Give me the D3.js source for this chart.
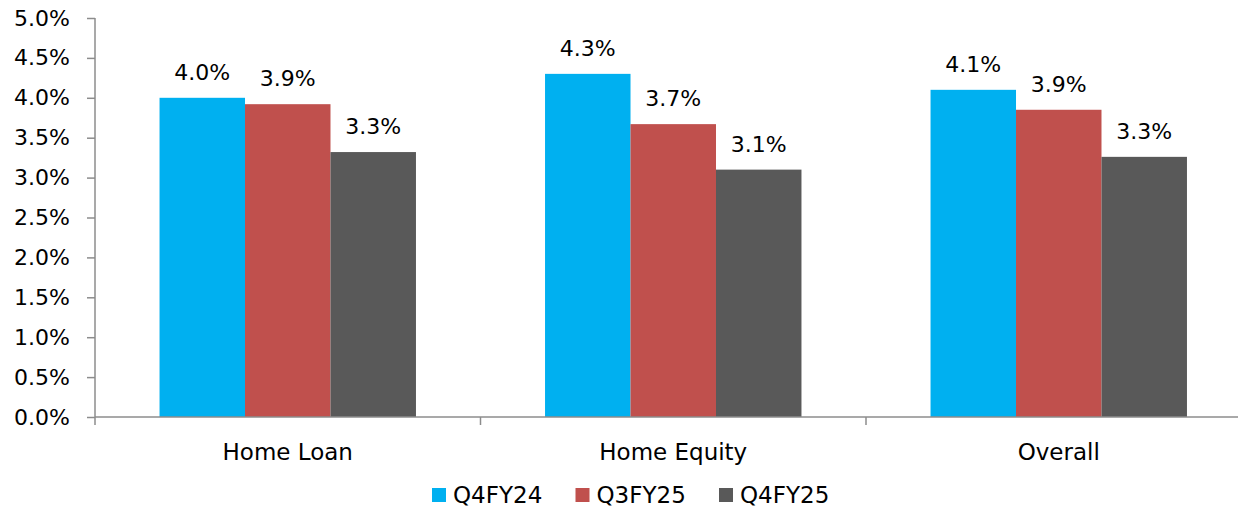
<!DOCTYPE html>
<html>
<head>
<meta charset="utf-8">
<script src="https://cdn.jsdelivr.net/npm/d3@7"></script>
<style>
  body { margin: 0; background: #fff; }
  #viz { width: 1238px; height: 510px; overflow: hidden; }
  text { font-family: "DejaVu Sans", sans-serif; fill: #000; }
</style>
</head>
<body>
<div id="viz"></div>
<script>
const categories = ['Home Loan', 'Home Equity', 'Overall'];
const seriesNames = ['Q4FY24', 'Q3FY25', 'Q4FY25'];
const q4fy24 = [4.0, 4.3, 4.1];
const q3fy25 = [3.92, 3.67, 3.85];
const q4fy25 = [3.32, 3.1, 3.26];
const colors = ['#00B0F0', '#C0504D', '#595959'];
const yTicks = [0, 0.5, 1, 1.5, 2, 2.5, 3, 3.5, 4, 4.5, 5];

const w = 1238, h = 510;
const allSeries = [q4fy24, q3fy25, q4fy25];

const svg = d3.select('#viz').append('svg')
  .attr('width', w).attr('height', h);

// scales
const x = d3.scaleBand().domain(categories).range([95, 1251.5]).paddingInner(0).paddingOuter(0);
const xInner = d3.scaleBand().domain(seriesNames).range([0, x.bandwidth()]).paddingOuter(0.755).paddingInner(0);
const y = d3.scaleLinear().domain([0, 5]).range([417, 18]);

// y axis
const yAxis = svg.append('g')
  .attr('transform', 'translate(95,0)')
  .call(d3.axisLeft(y).tickValues(yTicks).tickSize(8).tickPadding(17)
    .tickFormat(d => d.toFixed(1) + '%'));
yAxis.selectAll('line, path').attr('stroke', '#8c8c8c').attr('stroke-width', 1.5);
yAxis.select('.domain').attr('d', 'M0,18V417');
yAxis.selectAll('text').style('font-size', '22px').attr('fill', '#000')
  .style('font-family', '"DejaVu Sans", sans-serif');

// bars
const data = [];
categories.forEach((c, i) => {
  seriesNames.forEach((s, j) => data.push({ cat: c, series: s, value: allSeries[j][i], color: colors[j] }));
});

svg.selectAll('rect.bar').data(data).enter().append('rect')
  .attr('class', 'bar')
  .attr('x', d => x(d.cat) + xInner(d.series))
  .attr('width', xInner.bandwidth())
  .attr('y', d => y(d.value))
  .attr('height', d => y(0) - y(d.value))
  .attr('fill', d => d.color);

// value labels
svg.selectAll('text.val').data(data).enter().append('text')
  .attr('class', 'val')
  .attr('x', d => x(d.cat) + xInner(d.series) + xInner.bandwidth() / 2)
  .attr('y', d => y(d.value) - 18)
  .attr('text-anchor', 'middle')
  .style('font-size', '22px')
  .text(d => d.value.toFixed(1) + '%');

// x axis
const xAxis = svg.append('g')
  .attr('transform', 'translate(0,417)')
  .call(d3.axisBottom(x).tickSize(0).tickPadding(27));
xAxis.select('.domain').attr('stroke', '#8c8c8c').attr('stroke-width', 1.5)
  .attr('d', 'M95,0H1251.5');
xAxis.selectAll('text').style('font-size', '23px').attr('fill', '#000')
  .style('font-family', '"DejaVu Sans", sans-serif');
// category separators
const bounds = categories.map(c => x(c)).concat([x(categories[categories.length - 1]) + x.bandwidth()]);
xAxis.selectAll('line.sep').data(bounds).enter().append('line')
  .attr('class', 'sep')
  .attr('x1', d => d).attr('x2', d => d)
  .attr('y1', 0).attr('y2', 8)
  .attr('stroke', '#8c8c8c').attr('stroke-width', 1.5);

// legend
const legend = svg.append('g').attr('transform', 'translate(432,488)');
const items = legend.selectAll('g').data(seriesNames).enter().append('g')
  .attr('transform', (d, i) => 'translate(' + (i * 143.5) + ',0)');
items.append('rect').attr('width', 14).attr('height', 14).attr('fill', (d, i) => colors[i]);
items.append('text').attr('x', 21).attr('y', 15)
  .style('font-size', '23px').text(d => d);
</script>
</body>
</html>
